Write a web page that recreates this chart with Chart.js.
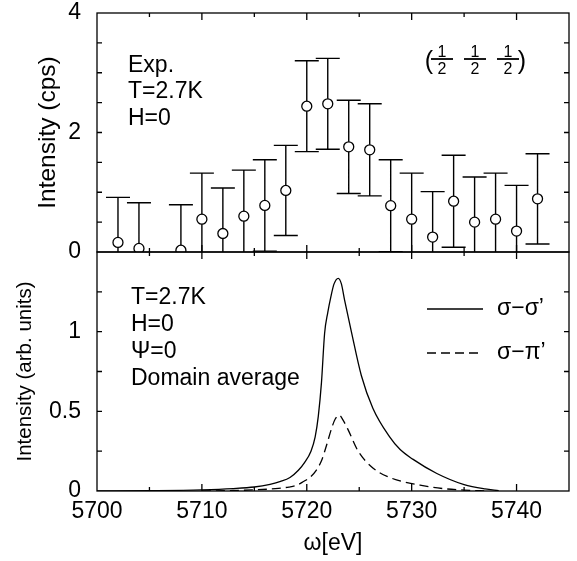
<!DOCTYPE html>
<html>
<head>
<meta charset="utf-8">
<script src="https://cdn.jsdelivr.net/npm/chart.js@4.4.1/dist/chart.umd.min.js"></script>
<style>
  body { margin: 0; background: #fff; }
  #wrap { position: relative; width: 577px; height: 561px; }
  canvas { position: absolute; left: 0; }
</style>
</head>
<body>
<div id="wrap">
  <canvas id="topChart" width="577" height="264" style="top:0px"></canvas>
  <canvas id="bottomChart" width="577" height="321" style="top:240px"></canvas>
</div>
<script>
// measured data (top panel) : energy, intensity and error bar half length
const expEnergy = [5702, 5704, 5708, 5710, 5712, 5714, 5716, 5718, 5720, 5722,
                   5724, 5726, 5728, 5730, 5732, 5734, 5736, 5738, 5740, 5742];
const expIntensity = [0.16, 0.06, 0.03, 0.55, 0.31, 0.60, 0.78, 1.03, 2.44, 2.48,
                      1.76, 1.71, 0.775, 0.55, 0.25, 0.85, 0.50, 0.55, 0.35, 0.89];
const expError = [0.755, 0.765, 0.76, 0.77, 0.76, 0.77, 0.765, 0.755, 0.76, 0.76,
                  0.78, 0.77, 0.77, 0.77, 0.76, 0.77, 0.755, 0.77, 0.765, 0.755];

// calculated spectra (bottom panel)
const ssEnergy = [5700, 5705, 5710, 5713, 5715, 5716.5, 5717.5, 5718.4, 5719.2, 5719.8,
                  5720.4, 5720.8, 5721.1, 5721.4, 5721.7, 5722.0, 5722.3, 5722.6, 5723.0, 5723.3,
                  5723.6, 5724.25, 5725.2, 5726.3, 5727.9, 5728.9, 5730.1, 5732.4, 5735, 5737, 5738.3];
const ssIntensity = [0, 0.002, 0.007, 0.015, 0.025, 0.042, 0.06, 0.085, 0.13, 0.18,
                     0.25, 0.34, 0.47, 0.68, 0.99, 1.12, 1.22, 1.30, 1.335, 1.30,
                     1.20, 1.0, 0.725, 0.52, 0.34, 0.26, 0.20, 0.11, 0.04, 0.013, 0.003];
const spEnergy = [5710, 5713, 5715, 5717, 5718.3, 5719.0, 5719.7, 5720.3, 5720.9, 5721.4,
                  5721.9, 5722.35, 5722.7, 5723.1, 5723.5, 5723.9, 5724.9, 5726.3, 5727.9, 5730.8,
                  5733, 5735, 5737.3];
const spIntensity = [0, 0.003, 0.007, 0.015, 0.025, 0.035, 0.06, 0.085, 0.13, 0.19,
                     0.29, 0.39, 0.45, 0.475, 0.44, 0.39, 0.25, 0.145, 0.085, 0.037,
                     0.015, 0.006, 0];

// axes
const xRange = [5700, 5745];
const xLabels = [5700, 5710, 5720, 5730, 5740];
const yTopRange = [0, 4];
const yTopLabels = [0, 2, 4];
const yBotRange = [0, 1.5];
const yBotLabels = [0, 0.5, 1];

const seriesNames = ["σ−σ’", "σ−π’"];

Chart.defaults.font.family = "'Liberation Sans', Arial, sans-serif";
Chart.defaults.color = "#000";

const BOTTOM_OFFSET = 240; // top of second canvas in page pixels

function toPts(xs, ys) {
  return xs.map((x, i) => ({ x: x, y: ys[i] }));
}

// frame on four sides and inward ticks
function frameTicks(xMinor, xMajor, yStep) {
  return {
    id: "frameTicks",
    afterDraw(chart) {
      const { ctx, chartArea: a, scales } = chart;
      const x = scales.x, y = scales.y;
      ctx.save();
      ctx.strokeStyle = "#000";
      ctx.lineWidth = 1.3;
      ctx.beginPath();
      for (let v = x.min + xMinor; v < x.max - 1e-6; v += xMinor) {
        const px = x.getPixelForValue(v);
        const len = Math.abs((v - x.min) % xMajor) < 1e-6 ? 7 : 4;
        ctx.moveTo(px, a.bottom); ctx.lineTo(px, a.bottom - len);
        ctx.moveTo(px, a.top); ctx.lineTo(px, a.top + len);
      }
      for (let v = y.min + yStep; v < y.max - 1e-6; v += yStep) {
        const py = y.getPixelForValue(v);
        ctx.moveTo(a.left, py); ctx.lineTo(a.left + 5, py);
        ctx.moveTo(a.right, py); ctx.lineTo(a.right - 5, py);
      }
      ctx.stroke();
      ctx.strokeRect(a.left, a.top, a.right - a.left, a.bottom - a.top);
      ctx.restore();
    }
  };
}

function textNotes(notes) {
  return {
    id: "textNotes",
    afterDraw(chart) {
      const ctx = chart.ctx;
      ctx.save();
      ctx.fillStyle = "#000";
      notes.forEach(n => {
        ctx.font = n.size + "px 'Liberation Sans', Arial, sans-serif";
        ctx.textAlign = n.align || "left";
        ctx.textBaseline = "alphabetic";
        ctx.fillText(n.text, n.x, n.y);
      });
      ctx.restore();
    }
  };
}

const errorBars = {
  id: "errorBars",
  beforeDatasetsDraw(chart) {
    const { ctx, chartArea: a, scales: { x, y } } = chart;
    ctx.save();
    ctx.beginPath();
    ctx.rect(a.left, a.top, a.right - a.left, a.bottom - a.top);
    ctx.clip();
    ctx.strokeStyle = "#000";
    ctx.lineWidth = 1.4;
    ctx.beginPath();
    expEnergy.forEach((e, i) => {
      const px = x.getPixelForValue(e);
      const hi = y.getPixelForValue(expIntensity[i] + expError[i]);
      const lo = y.getPixelForValue(expIntensity[i] - expError[i]);
      ctx.moveTo(px, lo); ctx.lineTo(px, hi);
      ctx.moveTo(px - 12, hi); ctx.lineTo(px + 12, hi);
      ctx.moveTo(px - 12, lo); ctx.lineTo(px + 12, lo);
    });
    ctx.stroke();
    ctx.restore();
  }
};

// (1/2 1/2 1/2) label
const hklLabel = {
  id: "hklLabel",
  afterDraw(chart) {
    const ctx = chart.ctx;
    ctx.save();
    ctx.fillStyle = "#000";
    ctx.strokeStyle = "#000";
    ctx.font = "25px 'Liberation Sans', Arial, sans-serif";
    ctx.textAlign = "center";
    ctx.fillText("(", 429, 69);
    ctx.fillText(")", 522, 69);
    ctx.font = "16px 'Liberation Sans', Arial, sans-serif";
    [442, 475, 508].forEach(cx => {
      ctx.fillText("1", cx, 57);
      ctx.fillText("2", cx, 74);
      ctx.lineWidth = 1.8;
      ctx.beginPath();
      ctx.moveTo(cx - 11, 59); ctx.lineTo(cx + 11, 59);
      ctx.stroke();
    });
    ctx.restore();
  }
};

const curveLegend = {
  id: "curveLegend",
  afterDraw(chart) {
    const ctx = chart.ctx;
    ctx.save();
    chart.data.datasets.forEach((ds, i) => {
      const yy = [309, 353][i] - BOTTOM_OFFSET;
      ctx.strokeStyle = ds.borderColor;
      ctx.lineWidth = ds.borderWidth;
      ctx.setLineDash(ds.borderDash || []);
      ctx.beginPath();
      ctx.moveTo(427, yy); ctx.lineTo(483, yy);
      ctx.stroke();
      ctx.setLineDash([]);
      ctx.fillStyle = "#000";
      ctx.font = "23px 'Liberation Sans', Arial, sans-serif";
      ctx.textBaseline = "middle";
      ctx.fillText(ds.label, 497, yy);
    });
    ctx.restore();
  }
};

function yAxis(range, step, labels, title, titleSize, titlePad) {
  return {
    min: range[0], max: range[1],
    grid: { display: false, drawTicks: false },
    border: { display: false },
    afterFit(scale) {
      scale.width = 97;
      scale.paddingTop = 0;
      scale.paddingBottom = 0;
    },
    ticks: {
      stepSize: step, autoSkip: false, padding: 16,
      font: { size: 23 },
      callback: v => (labels.some(l => Math.abs(l - v) < 1e-9) ? String(v) : "")
    },
    title: {
      display: true, text: title,
      font: { size: titleSize, lineHeight: 1 },
      padding: { top: titlePad, bottom: 0 }
    }
  };
}

new Chart(document.getElementById("topChart"), {
  type: "scatter",
  data: {
    datasets: [{
      label: "Exp.",
      data: toPts(expEnergy, expIntensity),
      pointStyle: "circle",
      pointRadius: 5,
      pointBorderWidth: 1.3,
      pointBorderColor: "#000",
      pointBackgroundColor: "#fff"
    }]
  },
  options: {
    responsive: false, animation: false, devicePixelRatio: 1,
    layout: { padding: { top: 13, right: 8, bottom: 12, left: 0 } },
    plugins: { legend: { display: false }, tooltip: { enabled: false } },
    scales: {
      x: { type: "linear", display: false, min: xRange[0], max: xRange[1] },
      y: yAxis(yTopRange, 0.5, yTopLabels, "Intensity (cps)", 24.5, 36)
    }
  },
  plugins: [errorBars, frameTicks(5, 10, 0.5), hklLabel, textNotes([
    { text: "Exp.", x: 128, y: 72, size: 23 },
    { text: "T=2.7K", x: 128, y: 98, size: 23 },
    { text: "H=0", x: 128, y: 125, size: 23 }
  ])]
});

new Chart(document.getElementById("bottomChart"), {
  type: "line",
  data: {
    datasets: [
      {
        label: seriesNames[0],
        data: toPts(ssEnergy, ssIntensity),
        borderColor: "#000", borderWidth: 1.3,
        pointRadius: 0, fill: false,
        cubicInterpolationMode: "monotone"
      },
      {
        label: seriesNames[1],
        data: toPts(spEnergy, spIntensity),
        borderColor: "#000", borderWidth: 1.3, borderDash: [9, 5],
        pointRadius: 0, fill: false,
        cubicInterpolationMode: "monotone"
      }
    ]
  },
  options: {
    responsive: false, animation: false, devicePixelRatio: 1,
    layout: { padding: { top: 12, right: 8, bottom: 0, left: 0 } },
    plugins: { legend: { display: false }, tooltip: { enabled: false } },
    scales: {
      x: {
        type: "linear", min: xRange[0], max: xRange[1],
        grid: { display: false, drawTicks: false },
        border: { display: false },
        afterFit(scale) {
          scale.height = 70;
          scale.paddingLeft = 0;
          scale.paddingRight = 0;
        },
        ticks: {
          stepSize: 5, autoSkip: false, maxRotation: 0, padding: 7,
          font: { size: 23 },
          callback: v => (xLabels.includes(v) ? String(v) : "")
        },
        title: {
          display: true, text: "ω[eV]",
          font: { size: 23, lineHeight: 1 },
          padding: { top: 0, bottom: 6 }
        }
      },
      y: yAxis(yBotRange, 0.25, yBotLabels, "Intensity (arb. units)", 20.5, 15)
    }
  },
  plugins: [frameTicks(5, 10, 0.25), curveLegend, textNotes([
    { text: "T=2.7K", x: 131, y: 304 - BOTTOM_OFFSET, size: 23 },
    { text: "H=0", x: 131, y: 331 - BOTTOM_OFFSET, size: 23 },
    { text: "Ψ=0", x: 131, y: 358 - BOTTOM_OFFSET, size: 23 },
    { text: "Domain average", x: 131, y: 385 - BOTTOM_OFFSET, size: 23 }
  ])]
});
</script>
</body>
</html>
